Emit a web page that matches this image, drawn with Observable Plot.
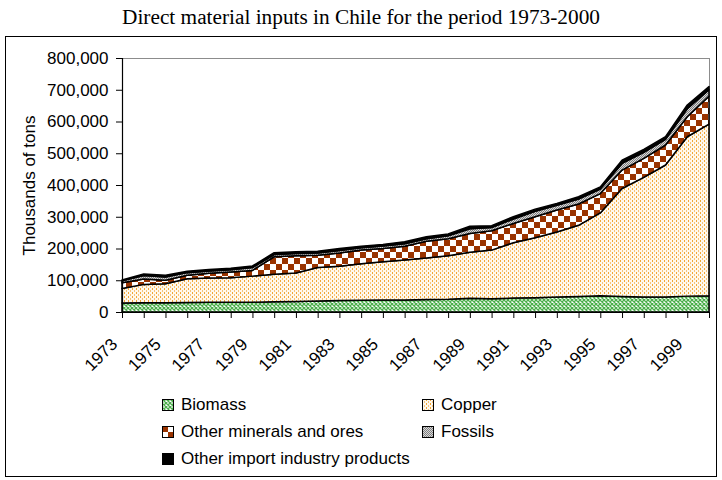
<!DOCTYPE html>
<html>
<head>
<meta charset="utf-8">
<script src="https://cdn.jsdelivr.net/npm/d3@7"></script>
<script src="https://cdn.jsdelivr.net/npm/@observablehq/plot@0.6"></script>
<style>
  body { margin: 0; background: #fff; }
  #wrap { position: relative; width: 722px; height: 480px; overflow: hidden;
          font-family: "Liberation Sans", Arial, sans-serif; color: #000; }
  #title { position: absolute; left: 0; top: 5px; width: 722px; text-align: center;
           font-family: "Liberation Serif", "Times New Roman", serif; font-size: 21.3px; }
  #box { position: absolute; left: 5px; top: 36px; width: 712px; height: 441px;
         border: 1.5px solid #000; box-sizing: border-box; }
  #chart { position: absolute; left: 0; top: 0; }
  #legend { position: absolute; left: 162px; top: 391px; display: grid;
            grid-template-columns: 260px auto; grid-auto-rows: 27px; font-size: 17px; }
  #legend .item { display: flex; align-items: center; white-space: nowrap; }
  #legend svg { margin-right: 7px; }
</style>
</head>
<body>
<svg width="0" height="0" style="position:absolute">
  <defs>
    <pattern id="p-biomass" width="4" height="4" patternUnits="userSpaceOnUse">
      <rect width="4" height="4" fill="#ffffff"/>
      <path d="M0,0L4,4M4,0L0,4" stroke="#4caf4c" stroke-width="1.3"/>
    </pattern>
    <pattern id="p-copper" width="4" height="4" patternUnits="userSpaceOnUse">
      <rect width="4" height="4" fill="#fff8ec"/>
      <rect x="0" y="0" width="1" height="2" fill="#f2a634"/>
      <rect x="2" y="2" width="1" height="2" fill="#f6c378"/>
    </pattern>
    <pattern id="p-minerals" width="12" height="12" patternUnits="userSpaceOnUse">
      <rect width="12" height="12" fill="#ffffff"/>
      <rect x="0" y="0" width="6" height="6" fill="#993300"/>
      <rect x="6" y="6" width="6" height="6" fill="#993300"/>
    </pattern>
    <pattern id="p-fossils" width="2" height="2" patternUnits="userSpaceOnUse">
      <rect width="2" height="2" fill="#d8d8d8"/>
      <rect x="0" y="0" width="1" height="1" fill="#808080"/>
      <rect x="1" y="1" width="1" height="1" fill="#808080"/>
    </pattern>
  </defs>
</svg>
<div id="wrap">
  <div id="title">Direct material inputs in Chile for the period 1973-2000</div>
  <div id="box"></div>
  <div id="chart"></div>
  <div id="legend"></div>
</div>
<script>
// Direct material inputs, thousands of tons
const years = [1973, 1974, 1975, 1976, 1977, 1978, 1979, 1980, 1981, 1982, 1983, 1984, 1985, 1986,
               1987, 1988, 1989, 1990, 1991, 1992, 1993, 1994, 1995, 1996, 1997, 1998, 1999, 2000];
const biomass  = [28000, 29000, 29000, 30000, 31000, 31000, 31000, 32000, 33000, 35000, 36000, 37000, 38000, 38000,
                  39000, 40000, 43000, 42000, 44000, 45000, 47000, 49000, 51000, 49000, 47000, 47000, 50000, 51000];
const copper   = [46000, 58000, 60000, 75000, 76000, 77000, 82000, 87000, 90000, 105000, 108000, 115000, 120000, 126000,
                  131000, 137000, 145000, 153000, 174000, 189000, 205000, 224000, 261000, 340000, 377000, 416000, 502000, 541000];
const minerals = [18000, 17000, 11000, 11000, 15000, 18000, 18000, 55000, 54000, 39000, 42000, 43000, 42000, 43000,
                  53000, 54000, 59000, 61000, 61000, 66000, 69000, 67000, 61000, 58000, 60000, 63000, 63000, 88000];
const fossils  = [6000, 11000, 10000, 8000, 7000, 7000, 9000, 7000, 7000, 7000, 8000, 7000, 8000, 8000,
                  8000, 9000, 15000, 10000, 14000, 17000, 15000, 16000, 14000, 21000, 19000, 18000, 25000, 20000];
const otherImport = [3000, 5000, 6000, 4000, 5000, 5000, 5000, 6000, 6000, 5000, 6000, 5000, 5000, 6000,
                     6000, 6000, 8000, 6000, 7000, 7000, 6000, 7000, 7000, 10000, 9000, 8000, 12000, 10000];

const seriesNames = ["Biomass", "Copper", "Other minerals and ores", "Fossils", "Other import industry products"];
const seriesValues = [biomass, copper, minerals, fossils, otherImport];
const seriesFills = ["url(#p-biomass)", "url(#p-copper)", "url(#p-minerals)", "url(#p-fossils)", "#000000"];
const yTicks = [0, 100000, 200000, 300000, 400000, 500000, 600000, 700000, 800000];
const labeledYears = [1973, 1975, 1977, 1979, 1981, 1983, 1985, 1987, 1989, 1991, 1993, 1995, 1997, 1999];
const legendOrder = ["Biomass", "Copper", "Other minerals and ores", "Fossils", "Other import industry products"];

// long table, bottom layer first in every year so the stack builds upward
const table = [];
years.forEach((year, i) => {
  seriesNames.forEach((name, s) => table.push({ year, series: name, value: seriesValues[s][i] }));
});

const chart = Plot.plot({
  width: 722,
  height: 382,
  marginLeft: 122,
  marginRight: 13,
  marginTop: 58,
  marginBottom: 70,
  style: { fontFamily: "'Liberation Sans', Arial, sans-serif", fontSize: "17px", background: "transparent", color: "#000" },
  x: { type: "linear", domain: [1973, 2000] },
  y: { domain: [0, 800000] },
  color: { domain: seriesNames, range: seriesFills },
  marks: [
    Plot.frame({ stroke: "#8c8c8c", strokeWidth: 1 }),
    Plot.areaY(table, Plot.stackY({ x: "year", y: "value", z: "series", fill: "series",
      stroke: "#000", strokeWidth: 1.5, strokeLinejoin: "round" })),
    Plot.axisY({ ticks: yTicks, tickFormat: d3.format(","), tickSize: 6, tickPadding: 8,
      label: "Thousands of tons", labelAnchor: "center", labelArrow: "none", labelOffset: 100 }),
    // year labels, every other year, slanted
    Plot.axisX({ ticks: labeledYears, tickSize: 0, tickPadding: 12, tickRotate: -45, dx: -8, dy: 17,
      tickFormat: d => String(d), label: null }),
    // a tick for every year
    Plot.axisX({ ticks: years, tickSize: 6, tickFormat: () => "", label: null }),
    Plot.ruleX([1973], { stroke: "#000", strokeWidth: 1.2 }),
    Plot.ruleY([0], { stroke: "#000", strokeWidth: 1.2 })
  ]
});
document.getElementById("chart").appendChild(chart);

// legend: two columns, patterned swatches
const legend = document.getElementById("legend");
legendOrder.forEach(name => {
  const fill = seriesFills[seriesNames.indexOf(name)];
  const item = document.createElement("div");
  item.className = "item";
  item.innerHTML = `<svg width="12" height="12"><rect x="0.5" y="0.5" width="11" height="11" fill="${fill}" stroke="#000" stroke-width="1"/></svg><span>${name}</span>`;
  legend.appendChild(item);
});
</script>
</body>
</html>
